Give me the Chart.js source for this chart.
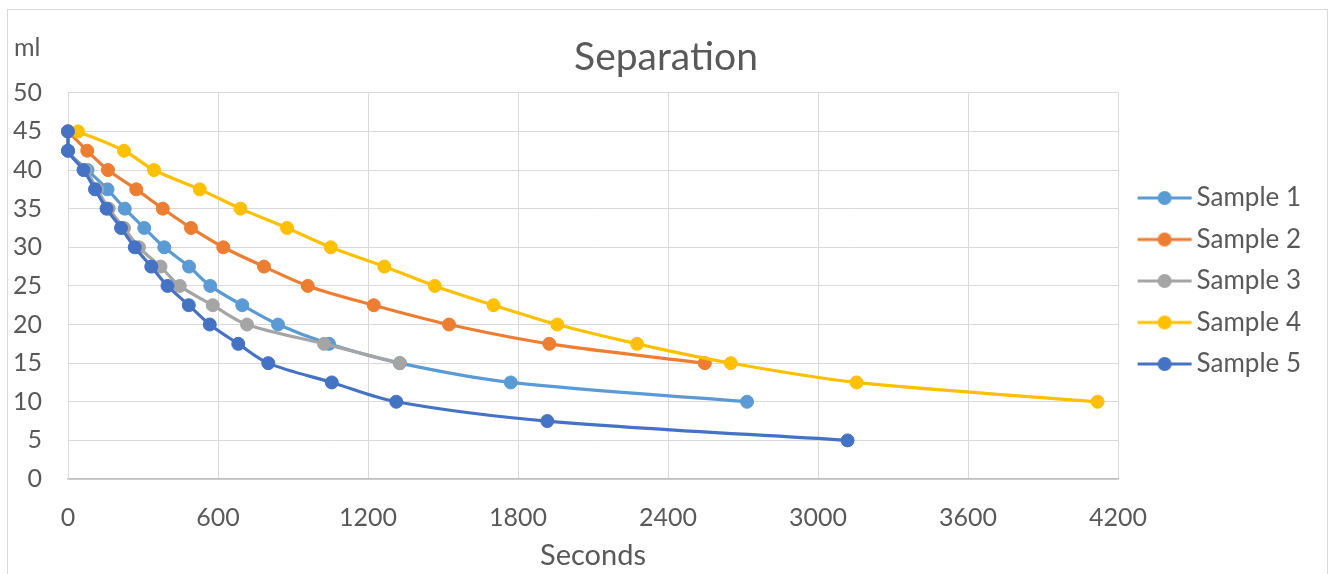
<!DOCTYPE html>
<html>
<head>
<meta charset="utf-8">
<script src="https://cdn.jsdelivr.net/npm/chart.js@4/dist/chart.umd.min.js"></script>
<style>
  html, body { margin: 0; padding: 0; background: #ffffff; }
  #wrap { position: relative; width: 1336px; height: 574px; overflow: hidden; }
  #frame { position: absolute; left: 7px; top: 9px; width: 1321px; height: 600px; border: 1px solid #d9d9d9; pointer-events: none; box-sizing: border-box; }
</style>
</head>
<body>
<div id="wrap">
  <canvas id="c" width="1336" height="574"></canvas>
  <div id="frame"></div>
</div>
<script>
// ---- data (seconds, ml) ----
const seriesNames = ['Sample 1', 'Sample 2', 'Sample 3', 'Sample 4', 'Sample 5'];

const sample1Seconds = [0, 0, 78, 158, 227, 305, 385, 484, 569, 697, 840, 1044, 1327, 1771, 2716];
const sample1Ml      = [45, 42.5, 40, 37.5, 35, 32.5, 30, 27.5, 25, 22.5, 20, 17.5, 15, 12.5, 10];

const sample2Seconds = [0, 77, 160, 273, 379, 492, 621, 784, 959, 1223, 1524, 1925, 2547];
const sample2Ml      = [45, 42.5, 40, 37.5, 35, 32.5, 30, 27.5, 25, 22.5, 20, 17.5, 15];

const sample3Seconds = [0, 0, 70, 117, 163, 224, 284, 370, 447, 579, 716, 1024, 1327];
const sample3Ml      = [45, 42.5, 40, 37.5, 35, 32.5, 30, 27.5, 25, 22.5, 20, 17.5, 15];

const sample4Seconds = [40, 224, 344, 527, 690, 876, 1051, 1265, 1467, 1702, 1957, 2276, 2651, 3154, 4118];
const sample4Ml      = [45, 42.5, 40, 37.5, 35, 32.5, 30, 27.5, 25, 22.5, 20, 17.5, 15, 12.5, 10];

const sample5Seconds = [0, 0, 62, 108, 154, 212, 267, 333, 398, 483, 567, 681, 801, 1055, 1313, 1917, 3118];
const sample5Ml      = [45, 42.5, 40, 37.5, 35, 32.5, 30, 27.5, 25, 22.5, 20, 17.5, 15, 12.5, 10, 7.5, 5];

const xTickValues = [0, 600, 1200, 1800, 2400, 3000, 3600, 4200];
const yTickValues = [0, 5, 10, 15, 20, 25, 30, 35, 40, 45, 50];

const colors = ['#5B9BD5', '#ED7D31', '#A5A5A5', '#FFC000', '#4472C4'];
const textColor = '#595959';
const FONT = 'Lato';

const allSeconds = [sample1Seconds, sample2Seconds, sample3Seconds, sample4Seconds, sample5Seconds];
const allMl = [sample1Ml, sample2Ml, sample3Ml, sample4Ml, sample5Ml];

function toPoints(xs, ys) { return xs.map((x, i) => ({ x: x, y: ys[i] })); }

// legend swatch: line + marker (Excel style)
function swatch(color) {
  const cv = document.createElement('canvas');
  cv.width = 68; cv.height = 16;
  const g = cv.getContext('2d');
  g.strokeStyle = color; g.lineWidth = 3; g.lineCap = 'butt';
  g.beginPath(); g.moveTo(13, 8); g.lineTo(67, 8); g.stroke();
  g.fillStyle = color;
  g.beginPath(); g.arc(40, 8, 7, 0, Math.PI * 2); g.fill();
  return cv;
}
const swatches = colors.map(swatch);

const datasets = seriesNames.map((name, i) => ({
  label: name,
  data: toPoints(allSeconds[i], allMl[i]),
  showLine: true,
  clip: false,
  borderColor: colors[i],
  backgroundColor: colors[i],
  borderWidth: 3.2,
  pointRadius: 6.5,
  pointBorderWidth: 1,
  pointBorderColor: colors[i],
  pointBackgroundColor: colors[i],
  tension: 0.33,
  order: seriesNames.length - i
}));

const extraText = {
  id: 'extraText',
  afterLayout(chart) {
    if (chart.legend) { chart.legend.top -= 6; chart.legend.bottom -= 6; }
    if (chart.titleBlock) { chart.titleBlock.left = 0; chart.titleBlock.right = 1332; chart.titleBlock.width = 1332; }
  },
  afterDraw(chart) {
    const ctx = chart.ctx;
    ctx.save();
    ctx.fillStyle = textColor;
    ctx.font = '25px ' + FONT;
    ctx.textAlign = 'left';
    ctx.textBaseline = 'alphabetic';
    ctx.fillText('ml', 14, 56);
    ctx.restore();
  }
};

new Chart(document.getElementById('c'), {
  type: 'scatter',
  data: { datasets: datasets },
  plugins: [extraText],
  options: {
    responsive: false,
    animation: false,
    layout: { padding: { left: 0, right: 25, top: 0, bottom: 0 } },
    plugins: {
      title: {
        display: true,
        text: 'Separation',
        color: textColor,
        font: { family: FONT, size: 39, weight: 'normal' },
        padding: { top: 34, bottom: 12 }
      },
      legend: {
        position: 'right',
        labels: {
          usePointStyle: true,
          pointStyleWidth: 50,
          padding: 15.5,
          color: textColor,
          font: { family: FONT, size: 26 },
          sort: (a, b) => a.datasetIndex - b.datasetIndex,
          generateLabels(chart) {
            const items = Chart.defaults.plugins.legend.labels.generateLabels(chart);
            items.forEach(it => { it.pointStyle = swatches[it.datasetIndex]; });
            return items;
          }
        }
      },
      tooltip: { enabled: false }
    },
    scales: {
      x: {
        type: 'linear',
        min: 0, max: 4200,
        afterBuildTicks(scale) { scale.ticks = xTickValues.map(v => ({ value: v })); },
        afterFit(scale) { scale.height = 95; },
        ticks: { color: textColor, font: { family: FONT, size: 25 }, padding: 24, callback: v => String(v) },
        grid: { color: '#d9d9d9', lineWidth: 1, drawTicks: false },
        border: { color: '#bfbfbf', width: 1.5 },
        title: { display: true, text: 'Seconds', color: textColor, font: { family: FONT, size: 29 }, padding: { top: 0, bottom: 1 } }
      },
      y: {
        type: 'linear',
        min: 0, max: 50,
        afterBuildTicks(scale) { scale.ticks = yTickValues.map(v => ({ value: v })); },
        afterFit(scale) { scale.width = 68; },
        ticks: { color: textColor, font: { family: FONT, size: 25 }, padding: 26, callback: v => String(v) },
        grid: { color: '#d9d9d9', lineWidth: 1, drawTicks: false },
        border: { color: '#d9d9d9', width: 1 }
      }
    }
  }
});
</script>
</body>
</html>
